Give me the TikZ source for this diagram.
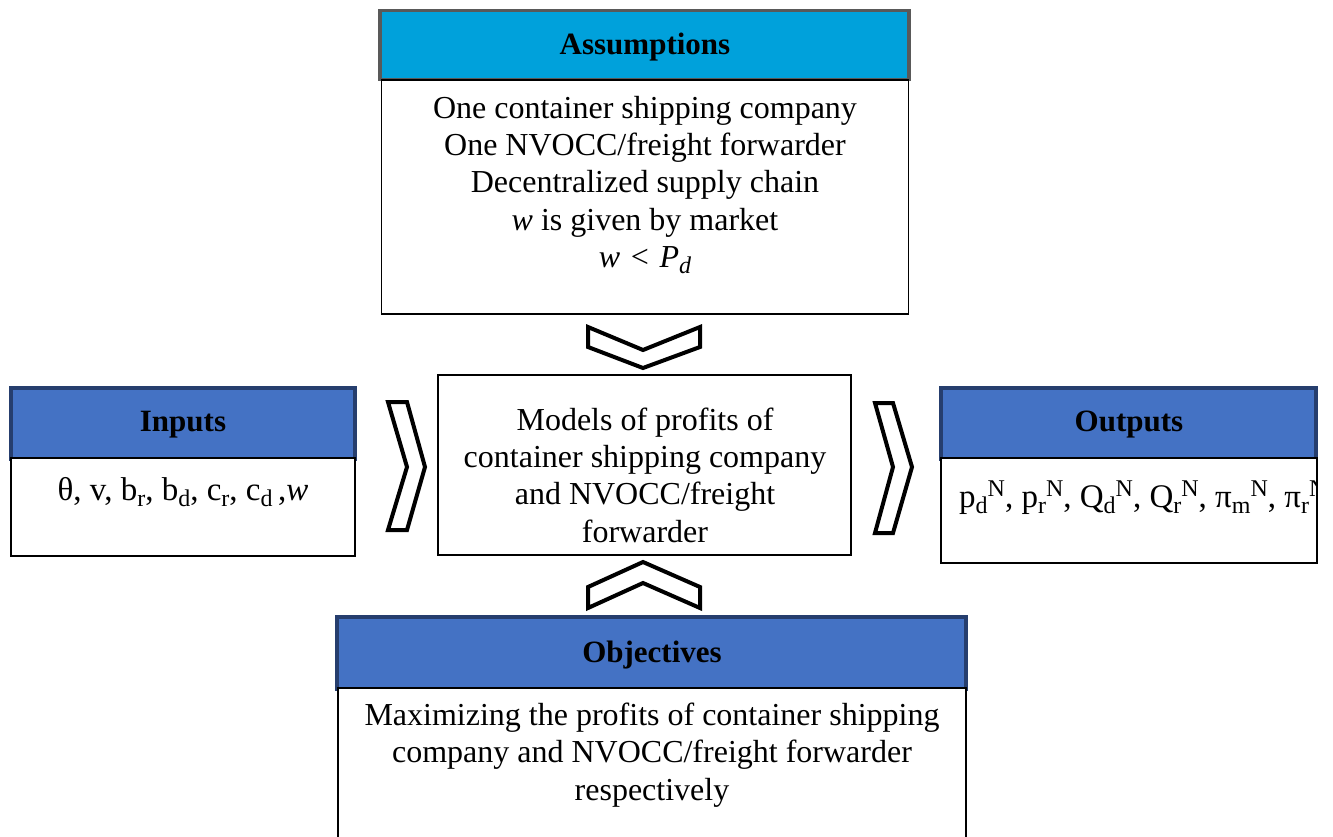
\documentclass[tikz,border=0pt]{standalone}
\usepackage{fontspec}
\setmainfont{Liberation Serif}
\definecolor{headcyan}{RGB}{0,161,219}
\definecolor{headblue}{RGB}{68,114,196}
\definecolor{edgenavy}{RGB}{38,62,110}
\definecolor{edgegray}{RGB}{89,89,89}
% lowered and raised indices at a large relative size
\newcommand\lowidx[1]{\raisebox{-6pt}{\fontsize{24}{24}\selectfont #1}}
\newcommand\upidx[1]{\raisebox{11pt}{\fontsize{24}{24}\selectfont #1}}
\begin{document}
\begin{tikzpicture}[x=1pt,y=-1pt,
  box/.style={draw=black,line width=1.2pt,fill=white,inner sep=0pt,rectangle},
  headbox/.style={fill=headblue,draw=edgenavy,line width=3.2pt,inner sep=0pt,rectangle},
  headtext/.style={inner sep=0pt,font=\fontsize{31}{36}\selectfont\bfseries},
  bodytext/.style={align=center,inner sep=0pt,font=\fontsize{32}{37.4}\selectfont},
  chevron/.style={draw=black,fill=white,line width=4pt,line join=miter}]
\useasboundingbox (0,0) rectangle (1333,836);
\clip (0,0) rectangle (1333,836);

% Assumptions
\node[headbox,fill=headcyan,draw=edgegray,line width=3.6pt,minimum width=529pt,minimum height=69pt] (ahead) at (644.5,45) {};
\node[box,minimum width=527pt,minimum height=234pt] (abody) at (645,197) {};
\node[headtext] (atitle) at (645,47) {Assumptions};
\node[bodytext] (atext) at (645,185) {One container shipping company\\
  One NVOCC/freight forwarder\\
  Decentralized supply chain\\
  \textit{w} is given by market\\
  \textit{w}\,\,<\,\,\textit{P}\lowidx{\textit{d}}};

% Inputs
\node[headbox,minimum width=344pt,minimum height=71pt] (ihead) at (183,423.5) {};
\node[headtext] (ititle) at (183,425) {Inputs};
\node[box,minimum width=344pt,minimum height=98pt] (ibody) at (183,507) {};
\node[bodytext,anchor=base,font=\fontsize{33}{38}\selectfont] (itext) at (183,500) {θ, v, b\lowidx{r}, b\lowidx{d}, c\lowidx{r}, c\lowidx{d}\,,\textit{w}};

% Central model
\node[box,minimum width=413pt,minimum height=180pt] (model) at (644.5,465) {};
\node[bodytext] (mtext) at (645,475) {Models of profits of\\
  container shipping company\\
  and NVOCC/freight\\
  forwarder};

% Outputs
\node[headbox,minimum width=375pt,minimum height=71pt] (ohead) at (1128.5,423.5) {};
\node[headtext] (otitle) at (1129,425) {Outputs};
\node[box,minimum width=376pt,minimum height=105pt] (obody) at (1129,510.5) {};
\begin{scope}
  \clip (obody.south west) rectangle (obody.north east);
  \node[bodytext,anchor=base west,font=\fontsize{33}{38}\selectfont] (otext) at (959,507) {p\lowidx{d}\upidx{N}, p\lowidx{r}\upidx{N}, Q\lowidx{d}\upidx{N}, Q\lowidx{r}\upidx{N}, π\lowidx{m}\upidx{N}, π\lowidx{r}\upidx{N}};
\end{scope}

% Objectives
\node[headbox,minimum width=629pt,minimum height=72pt] (bhead) at (651.5,653) {};
\node[headtext] (btitle) at (652,655) {Objectives};
\node[box,minimum width=628pt,minimum height=170pt] (bbody) at (652,773) {};
\node[bodytext] (btext) at (652,755) {Maximizing the profits of container shipping\\
  company and NVOCC/freight forwarder\\
  respectively};

% Chevron arrows
\draw[chevron] (588,327) -- (643,350) -- (700,327) -- (700,347) -- (643,368) -- (588,347) -- cycle;
\draw[chevron] (588,587) -- (643,562) -- (700,587) -- (700,608) -- (643,583) -- (588,608) -- cycle;
\draw[chevron] (388,402) -- (407,402) -- (425,467) -- (407,530) -- (388,530) -- (407,467) -- cycle;
\draw[chevron] (875,403) -- (893,403) -- (912,467) -- (893,533) -- (875,533) -- (893,467) -- cycle;
\end{tikzpicture}
\end{document}
